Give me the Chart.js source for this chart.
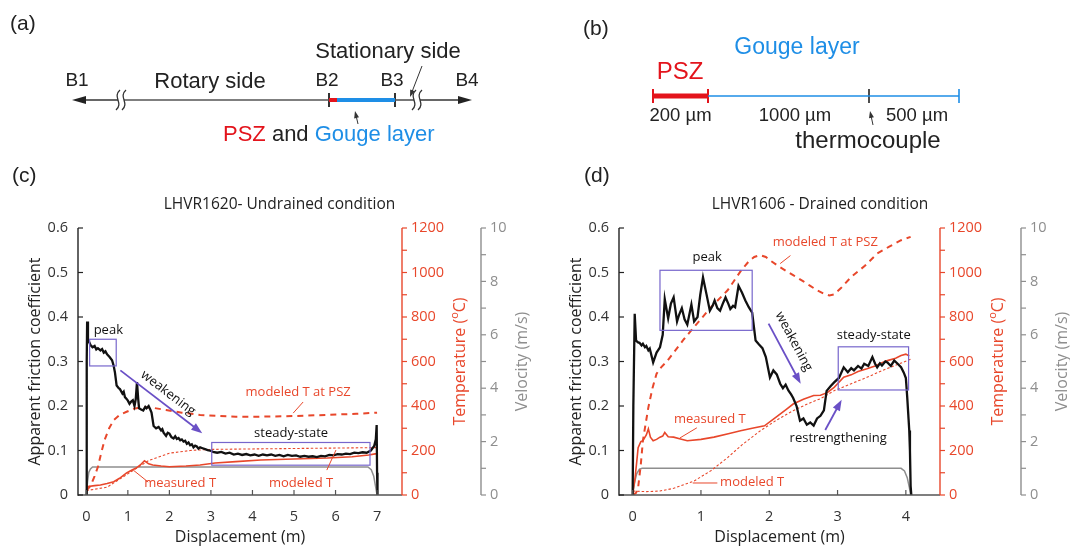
<!DOCTYPE html>
<html>
<head>
<meta charset="utf-8">
<script src="https://cdn.jsdelivr.net/npm/chart.js@4.4.0/dist/chart.umd.min.js"></script>
<style>
  body { margin:0; background:#fff; width:1070px; height:546px; position:relative; overflow:hidden; }
  canvas { position:absolute; }
  .lab { position:absolute; font-family:'Liberation Sans', Arial, sans-serif; font-size:21px; line-height:1; color:#222; }
</style>
</head>
<body>
<canvas id="panelA" width="560" height="160" style="left:0;top:0"></canvas>
<canvas id="panelB" width="510" height="160" style="left:560px;top:0"></canvas>
<canvas id="panelC" width="545" height="386" style="left:0;top:160px"></canvas>
<canvas id="panelD" width="530" height="386" style="left:540px;top:160px"></canvas>
<div class="lab" style="left:10px;top:12px">(a)</div>
<div class="lab" style="left:583px;top:17px">(b)</div>
<div class="lab" style="left:12px;top:164px">(c)</div>
<div class="lab" style="left:584px;top:164px">(d)</div>
<script>
// ---- DATA: panel (c) LHVR1620 undrained ----
const cFricX = [0, 0.01, 0.02, 0.04, 0.1, 0.15, 0.2, 0.24, 0.28, 0.34, 0.38, 0.42, 0.46, 0.5, 0.56, 0.62, 0.66, 0.69, 0.73, 0.78, 0.81, 0.87, 0.9, 0.93, 0.97, 1.0, 1.04, 1.08, 1.12, 1.16, 1.19, 1.22, 1.25, 1.27, 1.32, 1.37, 1.42, 1.45, 1.5, 1.54, 1.57, 1.62, 1.68, 1.74, 1.8, 1.83, 1.86, 1.92, 1.96, 2.0, 2.05, 2.1, 2.14, 2.18, 2.22, 2.26, 2.3, 2.34, 2.38, 2.42, 2.46, 2.5, 2.54, 2.58, 2.62, 2.66, 2.7, 2.74, 2.8, 2.86, 2.92, 2.98, 3.05, 3.15, 3.25, 3.35, 3.45, 3.55, 3.65, 3.75, 3.85, 3.95, 4.05, 4.15, 4.25, 4.35, 4.45, 4.55, 4.65, 4.75, 4.85, 4.95, 5.05, 5.15, 5.25, 5.35, 5.45, 5.55, 5.65, 5.75, 5.85, 5.95, 6.05, 6.15, 6.25, 6.35, 6.45, 6.55, 6.65, 6.75, 6.85, 6.93, 6.97, 6.99, 7.0, 7.01];
const cFric  = [0, 0.3, 0.39, 0.35, 0.337, 0.332, 0.335, 0.327, 0.33, 0.325, 0.328, 0.32, 0.323, 0.316, 0.31, 0.303, 0.29, 0.275, 0.246, 0.24, 0.238, 0.228, 0.232, 0.22, 0.216, 0.212, 0.205, 0.21, 0.213, 0.2, 0.215, 0.254, 0.215, 0.195, 0.192, 0.19, 0.198, 0.195, 0.2, 0.192, 0.185, 0.155, 0.15, 0.153, 0.145, 0.148, 0.14, 0.133, 0.14, 0.138, 0.13, 0.127, 0.132, 0.126, 0.128, 0.123, 0.125, 0.12, 0.122, 0.115, 0.118, 0.112, 0.114, 0.107, 0.111, 0.109, 0.104, 0.107, 0.105, 0.103, 0.101, 0.1, 0.097, 0.095, 0.097, 0.093, 0.095, 0.091, 0.093, 0.09, 0.092, 0.089, 0.091, 0.088, 0.091, 0.089, 0.091, 0.088, 0.09, 0.087, 0.09, 0.088, 0.089, 0.086, 0.088, 0.086, 0.087, 0.085, 0.088, 0.087, 0.09, 0.089, 0.092, 0.091, 0.093, 0.092, 0.095, 0.094, 0.096, 0.095, 0.1, 0.11, 0.125, 0.157, 0.05, 0];
const cTempMeasX = [0, 0.2, 0.34, 0.5, 0.66, 0.8, 0.97, 1.1, 1.2, 1.3, 1.4, 1.5, 1.6, 1.8, 2.0, 2.4, 2.74, 3.1, 3.6, 4.2, 5.0, 5.8, 6.4, 6.8, 6.95, 7.0];
const cTempMeas  = [37, 42, 45, 52, 60, 75, 99, 112, 121, 135, 154, 140, 135, 130, 127, 130, 135, 144, 150, 157, 162, 166, 172, 180, 185, 185];
const cTempModX = [0, 0.5, 1.0, 1.5, 2.0, 2.5, 3.0, 4.0, 5.0, 6.0, 7.0];
const cTempMod  = [20, 35, 95, 155, 188, 200, 205, 207, 209, 211, 213];
const cTempPszX = [0, 0.1, 0.2, 0.28, 0.36, 0.44, 0.55, 0.66, 0.8, 0.97, 1.15, 1.37, 1.6, 1.92, 2.3, 2.74, 3.2, 3.6, 4.2, 5.0, 5.8, 6.5, 7.0];
const cTempPsz  = [20, 40, 85, 127, 190, 247, 300, 337, 360, 374, 388, 395, 392, 382, 370, 360, 355, 352, 352, 355, 360, 365, 370];
const cVelX = [0, 0.03, 0.06, 0.1, 0.15, 6.78, 6.86, 6.92, 6.96, 7.0];
const cVel  = [0, 0.5, 0.85, 0.98, 1.05, 1.05, 0.95, 0.7, 0.35, 0];
const cXTicks = [0, 1, 2, 3, 4, 5, 6, 7];

// ---- DATA: panel (d) LHVR1606 drained ----
const dFricX = [0, 0.01, 0.03, 0.05, 0.08, 0.1, 0.13, 0.15, 0.18, 0.2, 0.23, 0.25, 0.3, 0.35, 0.4, 0.44, 0.47, 0.52, 0.56, 0.6, 0.65, 0.68, 0.72, 0.76, 0.8, 0.86, 0.9, 0.95, 0.99, 1.03, 1.08, 1.13, 1.17, 1.2, 1.24, 1.28, 1.32, 1.36, 1.4, 1.43, 1.47, 1.5, 1.55, 1.6, 1.65, 1.7, 1.75, 1.8, 1.85, 1.9, 1.95, 2.01, 2.06, 2.11, 2.16, 2.2, 2.24, 2.28, 2.32, 2.35, 2.4, 2.45, 2.5, 2.55, 2.6, 2.65, 2.7, 2.75, 2.8, 2.84, 2.9, 2.95, 3.02, 3.09, 3.15, 3.2, 3.24, 3.3, 3.35, 3.39, 3.45, 3.51, 3.55, 3.58, 3.62, 3.65, 3.7, 3.73, 3.78, 3.83, 3.88, 3.93, 3.97, 4.0, 4.02, 4.04, 4.05, 4.06, 4.07, 4.08];
const dFric  = [0, 0.2, 0.407, 0.347, 0.343, 0.342, 0.336, 0.34, 0.332, 0.335, 0.325, 0.329, 0.298, 0.32, 0.332, 0.36, 0.44, 0.397, 0.43, 0.444, 0.39, 0.405, 0.42, 0.395, 0.383, 0.428, 0.39, 0.4, 0.45, 0.489, 0.452, 0.414, 0.425, 0.437, 0.42, 0.414, 0.43, 0.444, 0.43, 0.418, 0.425, 0.422, 0.47, 0.455, 0.437, 0.422, 0.41, 0.347, 0.338, 0.33, 0.31, 0.264, 0.28, 0.271, 0.25, 0.24, 0.248, 0.235, 0.226, 0.218, 0.2, 0.167, 0.172, 0.158, 0.163, 0.156, 0.172, 0.178, 0.19, 0.234, 0.245, 0.253, 0.263, 0.287, 0.276, 0.285, 0.28, 0.29, 0.284, 0.295, 0.29, 0.31, 0.295, 0.287, 0.296, 0.291, 0.3, 0.298, 0.29, 0.302, 0.295, 0.287, 0.275, 0.263, 0.22, 0.17, 0.145, 0.1, 0.02, 0];
const dTempMeasX = [0, 0.03, 0.06, 0.08, 0.12, 0.15, 0.2, 0.23, 0.26, 0.3, 0.35, 0.4, 0.44, 0.47, 0.52, 0.6, 0.7, 0.8, 1.0, 1.19, 1.4, 1.58, 1.75, 1.93, 2.1, 2.25, 2.35, 2.5, 2.65, 2.75, 2.85, 2.95, 3.09, 3.2, 3.3, 3.43, 3.55, 3.65, 3.73, 3.85, 3.93, 4.0, 4.05];
const dTempMeas  = [10, 63, 150, 213, 240, 244, 270, 297, 260, 244, 250, 260, 265, 281, 262, 260, 252, 244, 250, 260, 275, 289, 300, 311, 350, 385, 409, 430, 447, 448, 460, 484, 529, 540, 555, 567, 580, 595, 604, 615, 627, 633, 625];
const dTempModX = [0, 0.2, 0.4, 0.6, 0.9, 1.15, 1.39, 1.6, 1.87, 2.1, 2.35, 2.55, 2.75, 2.95, 3.2, 3.43, 3.7, 4.02, 4.07];
const dTempMod  = [18, 15, 18, 30, 63, 110, 168, 225, 289, 335, 379, 408, 433, 469, 500, 529, 565, 604, 610];
const dTempPszX = [0, 0.05, 0.08, 0.12, 0.15, 0.19, 0.23, 0.29, 0.35, 0.42, 0.5, 0.6, 0.75, 0.9, 1.15, 1.39, 1.59, 1.7, 1.78, 1.87, 1.95, 2.01, 2.15, 2.35, 2.5, 2.6, 2.7, 2.8, 2.88, 2.95, 3.05, 3.2, 3.4, 3.58, 3.75, 3.93, 4.07];
const dTempPsz  = [0, 10, 33, 140, 244, 320, 394, 480, 545, 575, 600, 640, 700, 755, 845, 920, 1010, 1050, 1070, 1078, 1070, 1055, 1025, 988, 960, 940, 920, 905, 897, 902, 930, 980, 1030, 1085, 1115, 1145, 1160];
const dVelX = [0, 0.03, 0.06, 0.1, 0.14, 3.93, 3.98, 4.02, 4.05, 4.07];
const dVel  = [0, 0.5, 0.8, 0.97, 1.0, 1.0, 0.9, 0.65, 0.3, 0];
const dXTicks = [0, 1, 2, 3, 4];

// shared axis ticks
const fricTicks = [0, 0.1, 0.2, 0.3, 0.4, 0.5, 0.6];
const tempTicks = [0, 200, 400, 600, 800, 1000, 1200];
const velTicks = [0, 2, 4, 6, 8, 10];

// annotations, in (displacement, friction) coordinates
const cBoxes = [[0.08, 0.72, 0.29, 0.35], [3.02, 6.83, 0.067, 0.118]];
const cArrows = [[0.82, 0.28, 2.79, 0.139]];
const cLeaders = [[4.98, 0.184, 5.22, 0.209], [1.13, 0.056, 1.49, 0.029], [5.79, 0.056, 6.01, 0.101]];
const cNotes = [
  {t:'peak', x:0.53, y:0.371, c:'#111'},
  {t:'weakening', x:1.97, y:0.229, c:'#111', along:0},
  {t:'steady-state', x:4.93, y:0.139, c:'#111'},
  {t:'modeled T at PSZ', x:5.1, y:0.231, c:'red'},
  {t:'measured T', x:2.26, y:0.027, c:'red'},
  {t:'modeled T', x:5.17, y:0.027, c:'red'}
];
const dBoxes = [[0.4, 1.75, 0.37, 0.505], [3.01, 4.04, 0.236, 0.333]];
const dArrows = [[1.99, 0.385, 2.46, 0.25], [2.82, 0.146, 3.06, 0.214]];
const dLeaders = [[2.16, 0.52, 2.31, 0.538], [0.69, 0.128, 0.94, 0.151], [0.88, 0.027, 1.24, 0.027]];
const dNotes = [
  {t:'peak', x:1.09, y:0.534, c:'#111'},
  {t:'weakening', x:2.36, y:0.345, c:'#111', along:0},
  {t:'steady-state', x:3.53, y:0.358, c:'#111'},
  {t:'restrengthening', x:3.01, y:0.128, c:'#111'},
  {t:'modeled T at PSZ', x:2.82, y:0.568, c:'red'},
  {t:'measured T', x:1.13, y:0.169, c:'red'},
  {t:'modeled T', x:1.75, y:0.029, c:'red'}
];

// ---- styles ----
const RED = '#e8472b', GRAY = '#8e8e8e', INK = '#111', TXT = '#333', PURPLE = '#7766cc', ARROW = '#6a50c6';
const OS = "'Open Sans', sans-serif";
const SANS = "'Liberation Sans', Arial, sans-serif";
const PSZRED = '#e3141c', BLUE = '#1e8ee6';
Chart.defaults.font.family = OS;

function pts(xs, ys) { return xs.map((x, i) => ({x: x, y: ys[i]})); }
function series(xs, ys, axis, color, width, dash) {
  return {data: pts(xs, ys), yAxisID: axis, showLine: true, borderColor: color, borderWidth: width,
          borderDash: dash || [], pointRadius: 0, tension: 0, fill: false};
}
function seg(ctx, x0, y0, x1, y1, color, w) {
  ctx.beginPath(); ctx.moveTo(x0, y0); ctx.lineTo(x1, y1);
  ctx.strokeStyle = color; ctx.lineWidth = w; ctx.setLineDash([]); ctx.stroke();
}
function arrowHead(ctx, x0, y0, x1, y1, color, len, half) {
  const a = Math.atan2(y1 - y0, x1 - x0);
  ctx.beginPath();
  ctx.moveTo(x1, y1);
  ctx.lineTo(x1 - len * Math.cos(a) + half * Math.sin(a), y1 - len * Math.sin(a) - half * Math.cos(a));
  ctx.lineTo(x1 - len * Math.cos(a) - half * Math.sin(a), y1 - len * Math.sin(a) + half * Math.cos(a));
  ctx.closePath(); ctx.fillStyle = color; ctx.fill();
}
function arrow(ctx, x0, y0, x1, y1, color, w, len, half) {
  const a = Math.atan2(y1 - y0, x1 - x0);
  seg(ctx, x0, y0, x1 - len * 0.8 * Math.cos(a), y1 - len * 0.8 * Math.sin(a), color, w);
  arrowHead(ctx, x0, y0, x1, y1, color, len, half);
}
function text(ctx, t, x, y, font, color, align) {
  ctx.font = font; ctx.fillStyle = color; ctx.textAlign = align || 'center'; ctx.textBaseline = 'middle';
  ctx.fillText(t, x, y);
}

// ---- panels (c) and (d) ----
function decor(s) {
  return {
    id: 'decor',
    afterDraw(chart) {
      const {ctx, chartArea: a, scales} = chart;
      const X = scales.x, Y = scales.y, T = scales.yT, V = scales.yV;
      ctx.save();
      // axis lines
      seg(ctx, a.left, a.bottom, a.right, a.bottom, '#555', 1.4);
      seg(ctx, a.left, a.top, a.left, a.bottom + 0.7, '#222', 1.4);
      seg(ctx, T.left, a.top, T.left, a.bottom, RED, 1.4);
      seg(ctx, V.left, a.top, V.left, a.bottom, GRAY, 1.4);
      // ticks
      s.xTicks.forEach(v => { const p = X.getPixelForValue(v); seg(ctx, p, a.bottom, p, a.bottom - 5, '#555', 1.2); });
      fricTicks.forEach(v => { const p = Y.getPixelForValue(v); seg(ctx, a.left, p, a.left + 5, p, '#222', 1.2); });
      for (let v = 0; v <= 1200; v += 100) { const p = T.getPixelForValue(v); seg(ctx, T.left, p, T.left + 5, p, RED, 1.2); }
      for (let v = 0; v <= 10; v += 1) { const p = V.getPixelForValue(v); seg(ctx, V.left, p, V.left + 5, p, GRAY, 1.2); }
      // title
      text(ctx, s.title, (a.left + V.left) / 2, a.top - 23, '15.5px ' + OS, '#222');
      // axis titles
      text(ctx, 'Displacement (m)', (a.left + a.right) / 2, a.bottom + 42, '16px ' + OS, '#222');
      const cy = (a.top + a.bottom) / 2;
      ctx.save(); ctx.translate(a.left - 43, cy); ctx.rotate(-Math.PI / 2);
      text(ctx, 'Apparent friction coefficient', 0, 0, '16px ' + OS, '#222'); ctx.restore();
      ctx.save(); ctx.translate(V.left + 41, cy); ctx.rotate(-Math.PI / 2);
      text(ctx, 'Velocity (m/s)', 0, 0, '16px ' + OS, GRAY); ctx.restore();
      // temperature title with superscript o
      ctx.save(); ctx.translate(T.left + 58, cy); ctx.rotate(-Math.PI / 2);
      ctx.font = '16px ' + OS; const w1 = ctx.measureText('Temperature (').width, w3 = ctx.measureText('C)').width;
      ctx.font = '11px ' + OS; const w2 = ctx.measureText('o').width;
      let x0 = -(w1 + w2 + w3) / 2;
      text(ctx, 'Temperature (', x0, 0, '16px ' + OS, RED, 'left');
      text(ctx, 'o', x0 + w1, -5, '11px ' + OS, RED, 'left');
      text(ctx, 'C)', x0 + w1 + w2, 0, '16px ' + OS, RED, 'left');
      ctx.restore();
      // annotations
      const px = v => X.getPixelForValue(v), py = v => Y.getPixelForValue(v);
      s.boxes.forEach(b => {
        ctx.strokeStyle = PURPLE; ctx.lineWidth = 1.2; ctx.setLineDash([]);
        ctx.strokeRect(px(b[0]), py(b[3]), px(b[1]) - px(b[0]), py(b[2]) - py(b[3]));
      });
      s.arrows.forEach(r => arrow(ctx, px(r[0]), py(r[1]), px(r[2]), py(r[3]), ARROW, 1.8, 11, 4));
      s.leaders.forEach(r => seg(ctx, px(r[0]), py(r[1]), px(r[2]), py(r[3]), RED, 1));
      s.notes.forEach(n => {
        const col = n.c === 'red' ? RED : n.c;
        if (n.along !== undefined) {
          const r = s.arrows[n.along];
          const ang = Math.atan2(py(r[3]) - py(r[1]), px(r[2]) - px(r[0]));
          ctx.save(); ctx.translate(px(n.x), py(n.y)); ctx.rotate(ang);
          text(ctx, n.t, 0, 0, '13px ' + OS, col); ctx.restore();
        } else {
          text(ctx, n.t, px(n.x), py(n.y), '13px ' + OS, col);
        }
      });
      ctx.restore();
    }
  };
}

function mainPanel(id, s) {
  const noGrid = {display: false, drawTicks: false};
  return new Chart(document.getElementById(id), {
    type: 'scatter',
    data: {datasets: [
      series(s.fricX, s.fric, 'y', INK, 2.3),
      series(s.tMeasX, s.tMeas, 'yT', RED, 1.6),
      series(s.tModX, s.tMod, 'yT', RED, 1.1, [2.5, 2]),
      series(s.tPszX, s.tPsz, 'yT', RED, 2, [6, 5]),
      series(s.velX, s.vel, 'yV', GRAY, 1.5)
    ]},
    options: {
      responsive: false, animation: false,
      layout: {padding: {top: 68, left: 0, right: 0, bottom: 0}},
      plugins: {legend: {display: false}, tooltip: {enabled: false}, title: {display: false}},
      scales: {
        x: {type: 'linear', min: s.xMin, max: s.xMax, grid: noGrid, border: {display: false},
            ticks: {color: TXT, font: {size: 14.5}, padding: 13, maxRotation: 0, callback: v => String(v)},
            afterBuildTicks: sc => { sc.ticks = s.xTicks.map(v => ({value: v})); },
            afterFit: sc => { sc.height = 51; }},
        y: {type: 'linear', position: 'left', min: 0, max: 0.6, grid: noGrid, border: {display: false},
            ticks: {color: TXT, font: {size: 14.5}, padding: 10, callback: v => v === 0 ? '0' : v.toFixed(1)},
            afterBuildTicks: sc => { sc.ticks = fricTicks.map(v => ({value: v})); },
            afterFit: sc => { sc.width = s.leftW; }},
        yT: {type: 'linear', position: 'right', min: 0, max: 1200, grid: noGrid, border: {display: false},
             ticks: {color: RED, font: {size: 14.5}, padding: 9, callback: v => String(v)},
             afterBuildTicks: sc => { sc.ticks = tempTicks.map(v => ({value: v})); },
             afterFit: sc => { sc.width = s.tempW; }},
        yV: {type: 'linear', position: 'right', min: 0, max: 10, grid: noGrid, border: {display: false},
             ticks: {color: GRAY, font: {size: 14.5}, padding: 9, callback: v => String(v)},
             afterBuildTicks: sc => { sc.ticks = velTicks.map(v => ({value: v})); },
             afterFit: sc => { sc.width = s.velW; }}
      }
    },
    plugins: [decor(s)]
  });
}

mainPanel('panelC', {
  title: 'LHVR1620- Undrained condition', xMin: -0.2, xMax: 7.6, xTicks: cXTicks,
  leftW: 78, tempW: 79, velW: 64,
  fricX: cFricX, fric: cFric, tMeasX: cTempMeasX, tMeas: cTempMeas, tModX: cTempModX, tMod: cTempMod,
  tPszX: cTempPszX, tPsz: cTempPsz, velX: cVelX, vel: cVel,
  boxes: cBoxes, arrows: cArrows, leaders: cLeaders, notes: cNotes
});
mainPanel('panelD', {
  title: 'LHVR1606 - Drained condition', xMin: -0.2, xMax: 4.5, xTicks: dXTicks,
  leftW: 79, tempW: 81, velW: 49,
  fricX: dFricX, fric: dFric, tMeasX: dTempMeasX, tMeas: dTempMeas, tModX: dTempModX, tMod: dTempMod,
  tPszX: dTempPszX, tPsz: dTempPsz, velX: dVelX, vel: dVel,
  boxes: dBoxes, arrows: dArrows, leaders: dLeaders, notes: dNotes
});

// ---- schematics (a) and (b), drawn in page-pixel units ----
// (a) sample holder: B1..B4 boundaries along the sample axis
const aLineY = 100;
const aMarks = {B1: 72, breakL: 121, B2: 329, pszEnd: 337, B3: 395, breakR: 417, B4: 472};
// (b) layer widths and thermocouple position (schematic, not to scale)
const bLineY = 96;
const bMarks = {start: 653, psz: 708, thermo: 869, end: 959};
const bLabels = ['200 µm', '1000 µm', '500 µm'];

function segSet(x0, x1, y0, y1, color, w) {
  return {data: [{x: x0, y: y0}, {x: x1, y: y1}], showLine: true, borderColor: color, borderWidth: w,
          pointRadius: 0, borderCapStyle: 'butt'};
}
function schematic(id, xMin, xMax, datasets, draw) {
  return new Chart(document.getElementById(id), {
    type: 'scatter', data: {datasets: datasets},
    options: {responsive: false, animation: false, layout: {padding: 0},
      plugins: {legend: {display: false}, tooltip: {enabled: false}},
      scales: {x: {type: 'linear', display: false, min: xMin, max: xMax},
               y: {type: 'linear', display: false, min: 0, max: 160, reverse: true}}},
    plugins: [{id: 'sch', afterDatasetsDraw(chart) {
      const X = chart.scales.x, Y = chart.scales.y;
      chart.ctx.save(); draw(chart.ctx, v => X.getPixelForValue(v), v => Y.getPixelForValue(v)); chart.ctx.restore();
    }}]
  });
}

const m = aMarks, L = aLineY;
schematic('panelA', 0, 560, [
  segSet(m.B1 + 8, m.breakL - 3, L, L, '#333', 1.6),
  segSet(m.breakL + 3, m.B2, L, L, '#555', 1.6),
  segSet(m.B2, m.pszEnd, L, L, PSZRED, 4),
  segSet(m.pszEnd, m.B3, L, L, BLUE, 4),
  segSet(m.B3, m.breakR - 3, L, L, '#555', 1.6),
  segSet(m.breakR + 3, m.B4 - 8, L, L, '#333', 1.6),
  segSet(m.B2, m.B2, L - 7, L + 7, '#333', 2),
  segSet(m.B3, m.B3, L - 7, L + 7, '#333', 2)
], (ctx, px, py) => {
  arrowHead(ctx, px(m.B1 + 20), py(L), px(m.B1), py(L), '#222', 14, 4);
  arrowHead(ctx, px(m.B4 - 20), py(L), px(m.B4), py(L), '#222', 14, 4);
  [m.breakL, m.breakR].forEach(b => {
    [-3, 3].forEach(o => {
      const x = px(b + o), y0 = py(L - 10), y1 = py(L + 10);
      ctx.beginPath(); ctx.moveTo(x + 2, y0);
      ctx.bezierCurveTo(x - 6, y0 + 7, x + 6, y1 - 7, x - 2, y1);
      ctx.strokeStyle = '#333'; ctx.lineWidth = 1.3; ctx.stroke();
    });
  });
  const F = s => s + 'px ' + SANS;
  text(ctx, 'B1', px(77), py(81), F(19), '#222');
  text(ctx, 'Rotary side', px(210), py(82), F(22), '#222');
  text(ctx, 'B2', px(327), py(81), F(19), '#222');
  text(ctx, 'B3', px(392), py(81), F(19), '#222');
  text(ctx, 'B4', px(467), py(81), F(19), '#222');
  text(ctx, 'Stationary side', px(388), py(52), F(22), '#222');
  arrow(ctx, px(422), py(66), px(410), py(97), '#333', 1, 7, 2.5);
  arrow(ctx, px(358), py(124), px(355), py(111), '#333', 1, 7, 2.5);
  ctx.font = F(22);
  let x = px(223);
  [['PSZ', PSZRED], [' and ', '#222'], ['Gouge layer', BLUE]].forEach(p => {
    text(ctx, p[0], x, py(135), F(22), p[1], 'left');
    x += ctx.measureText(p[0]).width;
  });
});

const b = bMarks, BL = bLineY;
schematic('panelB', 560, 1070, [
  segSet(b.start, b.psz, BL, BL, PSZRED, 5),
  segSet(b.psz, b.end, BL, BL, BLUE, 1.6),
  segSet(b.start, b.start, BL - 7, BL + 7, PSZRED, 2),
  segSet(b.psz, b.psz, BL - 7, BL + 7, PSZRED, 2),
  segSet(b.thermo, b.thermo, BL - 7, BL + 7, '#222', 1.6),
  segSet(b.end, b.end, BL - 7, BL + 7, BLUE, 1.6)
], (ctx, px, py) => {
  const F = s => s + 'px ' + SANS;
  text(ctx, 'Gouge layer', px(797), py(48), F(23), BLUE);
  text(ctx, 'PSZ', px(680), py(72), F(24), PSZRED);
  text(ctx, bLabels[0], px((b.start + b.psz) / 2), py(116), F(18.5), '#222');
  text(ctx, bLabels[1], px(795), py(116), F(18.5), '#222');
  text(ctx, bLabels[2], px(917), py(116), F(18.5), '#222');
  text(ctx, 'thermocouple', px(868), py(141), F(24), '#222');
  arrow(ctx, px(873), py(125), px(870), py(111), '#333', 1, 7, 2.5);
});
</script>
</body>
</html>
